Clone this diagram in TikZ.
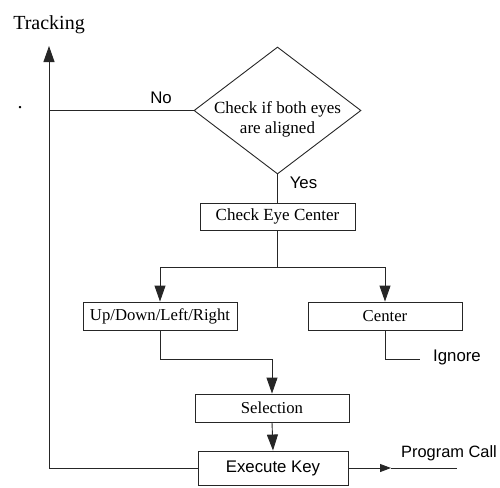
\documentclass[tikz,border=0pt]{standalone}
\usepackage{fontspec}
\setmainfont{Liberation Serif}
\setsansfont{Liberation Sans}
\usetikzlibrary{shapes.geometric,arrows.meta}
\begin{document}
\begin{tikzpicture}[x=1pt,y=-1pt,
  ln/.style={line width=0.9pt,draw=black!85},
  arr/.style={ln,-{Triangle[length=16pt,width=11pt]}},
  sarr/.style={ln,-{Triangle[length=11pt,width=8pt]}},
  boxnode/.style={draw=black!85,line width=0.9pt,inner sep=0pt,minimum height=28pt,minimum width=154pt,font=\fontsize{16.7}{18}\selectfont},
  sfl/.style={font=\sffamily\fontsize{16.8}{18}\selectfont,inner sep=0pt},
  serl/.style={font=\fontsize{20}{22}\selectfont,inner sep=0pt}]
\useasboundingbox (0,0) rectangle (500,487);
\node[diamond,draw=black!85,line width=0.9pt,inner sep=0pt,minimum width=167pt,minimum height=127pt] (d) at (277.5,110.5) {};
\node[align=center,inner sep=0pt,font=\fontsize{17}{20}\selectfont] (dt) at ([yshift=-9pt]d.center) {Check if both eyes\\are aligned};
\node[boxnode,minimum width=155pt,minimum height=27pt,font=\fontsize{17}{18}\selectfont] (c) at (277.5,216.5) {Check Eye Center};
\node[boxnode] (u) at (160,316) {Up/Down/Left/Right};
\node[boxnode] (ce) at (385,316) {Center};
\node[boxnode] (s) at (272,408) {Selection};
\node[boxnode,minimum width=150pt,minimum height=34pt,font=\sffamily\fontsize{16.8}{18}\selectfont] (e) at (273,468) {Execute Key};
\node[serl] (tr) at (49,25) {Tracking};
\node[serl] (dot) at (20,108) {.};
\node[sfl] (no) at (161,98) {No};
\node[sfl] (yes) at (303.5,183) {Yes};
\node[sfl,anchor=west] (ig) at (433,357) {Ignore};
\node[sfl,anchor=west,font=\sffamily\fontsize{16.4}{18}\selectfont] (pc) at (401,453) {Program Call};
\coordinate (j1) at (277.5,267);
\coordinate (k1) at (272,359);
\coordinate (t1) at (49,110.5);
\coordinate (top) at (49,46);
\coordinate (ig1) at (420,359);
\coordinate (pt) at (391,468);
\coordinate (pe) at (457,468);
\draw[ln] (d.south) -- (c.north);
\draw[ln] (c.south) -- (j1);
\draw[arr] (j1) -| (u.north);
\draw[arr] (j1) -| (ce.north);
\draw[ln] (u.south) |- (k1);
\draw[arr] (k1) -- (s.north);
\draw[arr] (s.south) -- (e.north);
\draw[ln] (ce.south) |- (ig1);
\draw[ln] (d.west) -- (t1);
\draw[arr] (e.west) -| (top);
\draw[sarr] (e.east) -- (pt);
\draw[ln] (pt) -- (pe);
\end{tikzpicture}
\end{document}
